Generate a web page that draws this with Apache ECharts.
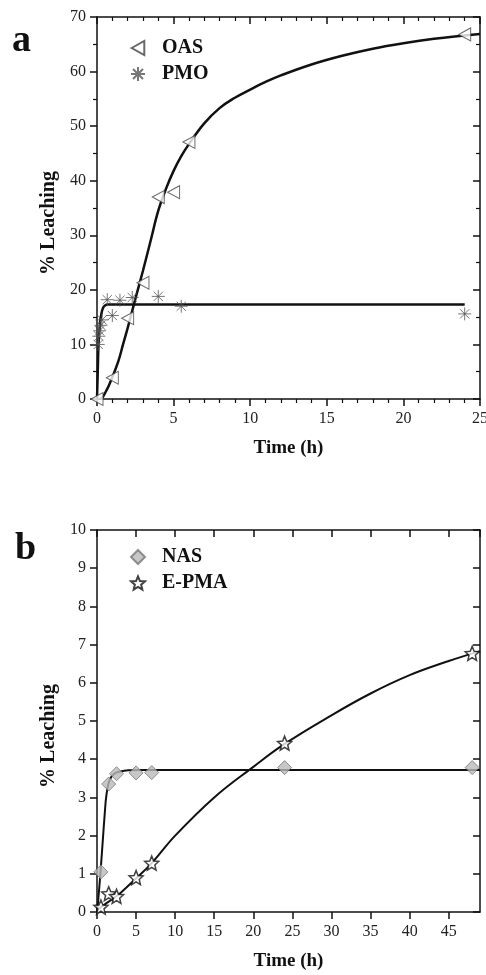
<!DOCTYPE html>
<html>
<head>
<meta charset="utf-8">
<script src="https://cdn.jsdelivr.net/npm/echarts@6/dist/echarts.min.js"></script>
<style>
  html, body { margin: 0; padding: 0; background: #fff; }
  #chart { width: 486px; height: 975px; }
</style>
</head>
<body>
<div id="chart"></div>
<script>
// panel a - measured points (time in h, % leaching)
const oasTime = [0, 1, 2, 3, 4, 5, 6, 24];
const oasVal = [0, 3.9, 14.8, 21.3, 37.0, 37.9, 47.1, 66.8];
const pmoTime = [0.08, 0.12, 0.17, 0.25, 0.33, 0.67, 1, 1.5, 2.3, 4, 5.5, 24];
const pmoVal = [10, 11.5, 12.5, 13.5, 14.5, 18.2, 15.3, 18.1, 18.6, 18.8, 17.0, 15.6];

// panel a - fitted curves
const oasFitTime = [0, 0.2, 0.6, 1, 1.4, 1.7, 2, 2.5, 3, 3.5, 4, 4.5, 5, 5.5, 6, 7, 8, 9, 10, 11, 12, 14, 16, 18, 20, 22, 25];
const oasFitVal = [0, 0, 1.5, 4, 7, 10, 13, 18.3, 23.5, 29, 34.5, 38.5, 41.8, 44.5, 46.7, 50.5, 53.3, 55.2, 56.7, 58.1, 59.3, 61.3, 62.9, 64.2, 65.2, 66.0, 66.9];
const pmoFitTime = [0, 0.05, 0.1, 0.2, 0.3, 0.4, 0.5, 0.7, 1, 24];
const pmoFitVal = [0, 5, 10, 14, 15.8, 16.7, 17.1, 17.3, 17.3, 17.3];

// panel b - measured points
const nasTime = [0.5, 1.5, 2.5, 5, 7, 24, 48];
const nasVal = [1.05, 3.35, 3.62, 3.64, 3.65, 3.78, 3.78];
const epmaTime = [0.5, 1.5, 2.5, 5, 7, 24, 48];
const epmaVal = [0.13, 0.48, 0.41, 0.9, 1.28, 4.42, 6.77];

// panel b - fitted curves
const nasFitTime = [0, 0.15, 0.45, 0.75, 1, 1.2, 1.6, 2.2, 3, 4, 6, 49];
const nasFitVal = [0, 0.3, 1.05, 1.9, 2.6, 3.05, 3.45, 3.62, 3.68, 3.71, 3.72, 3.72];
const epmaFitTime = [0, 1, 2, 3, 5, 7, 10, 15, 20, 24, 30, 35, 40, 45, 49];
const epmaFitVal = [0.05, 0.2, 0.34, 0.5, 0.88, 1.28, 2.0, 3.0, 3.8, 4.4, 5.15, 5.72, 6.2, 6.57, 6.83];

const pairs = (xs, ys) => xs.map((x, i) => [x, ys[i]]);

const serif = "'Liberation Serif', 'DejaVu Serif', serif";
const ink = '#111';
const triPath = 'path://M0,5L9,0L9,10Z';
const starPath = 'path://M0,-1L0.265,-0.364L0.951,-0.309L0.428,0.139L0.588,0.809L0,0.45L-0.588,0.809L-0.428,0.139L-0.951,-0.309L-0.265,-0.364Z';
const asteriskPath = 'path://M0,-1L0,1M-1,0L1,0M-0.71,-0.71L0.71,0.71M-0.71,0.71L0.71,-0.71';

function makeAxis(kind, gridIndex, max, interval, minorSplit, mirror) {
  let pos = kind === 'x' ? (mirror ? 'top' : 'bottom') : (mirror ? 'right' : 'left');
  let ax = {
    type: 'value',
    gridIndex: gridIndex,
    position: pos,
    min: 0,
    max: max,
    interval: interval,
    axisLine: { show: true, onZero: false, lineStyle: { color: ink, width: 1.5 } },
    axisTick: { show: true, inside: mirror, length: 7, lineStyle: { color: ink, width: 1.5 } },
    minorTick: { show: minorSplit > 0, splitNumber: minorSplit || 5, length: 4, lineStyle: { color: ink, width: 1.2 } },
    splitLine: { show: false },
    axisLabel: {
      show: !mirror, fontFamily: serif, fontSize: 16, color: '#222',
      margin: kind === 'x' ? 12 : 11,
      showMaxLabel: max % interval === 0
    }
  };
  if (!mirror) {
    ax.nameLocation = 'middle';
    if (kind === 'x') {
      ax.name = 'Time (h)';
      ax.nameGap = 40;
      ax.nameTextStyle = { fontFamily: serif, fontSize: 19, fontWeight: 'bold', color: ink };
    } else {
      ax.name = '% Leaching';
      ax.nameGap = 38;
      ax.nameTextStyle = { fontFamily: serif, fontSize: 20, fontWeight: 'bold', color: ink, padding: [0, 30, 0, 0] };
    }
  }
  return ax;
}

const legendText = { fontFamily: serif, fontSize: 20, fontWeight: 'bold', color: ink, padding: [0, 0, 0, 12] };

let myChart = echarts.init(document.getElementById('chart'), null, { renderer: 'canvas' });

let option = {
  backgroundColor: '#fff',
  animation: false,
  grid: [
    { left: 97, top: 17, width: 383, height: 382, outerBoundsMode: 'none' },
    { left: 97, top: 530, width: 383, height: 382, outerBoundsMode: 'none' }
  ],
  xAxis: [
    makeAxis('x', 0, 25, 5, 5, false),
    makeAxis('x', 0, 25, 5, 5, true),
    makeAxis('x', 1, 49, 5, 0, false),
    makeAxis('x', 1, 49, 5, 0, true)
  ],
  yAxis: [
    makeAxis('y', 0, 70, 10, 2, false),
    makeAxis('y', 0, 70, 10, 2, true),
    makeAxis('y', 1, 10, 1, 0, false),
    makeAxis('y', 1, 10, 1, 0, true)
  ],
  legend: [
    {
      data: ['OAS', 'PMO'],
      left: 125, top: 33, orient: 'vertical',
      itemWidth: 14, itemHeight: 14, itemGap: 6,
      textStyle: legendText
    },
    {
      data: ['NAS', 'E-PMA'],
      left: 125, top: 542, orient: 'vertical',
      itemWidth: 14, itemHeight: 14, itemGap: 6,
      textStyle: legendText
    }
  ],
  graphic: [
    { type: 'text', left: 12, top: 22, style: { text: 'a', font: 'bold 38px ' + serif, fill: ink } },
    { type: 'text', left: 15, top: 530, style: { text: 'b', font: 'bold 38px ' + serif, fill: ink } }
  ],
  series: [
    {
      name: 'OAS fit', type: 'line', xAxisIndex: 0, yAxisIndex: 0,
      data: pairs(oasFitTime, oasFitVal), smooth: 0.4,
      showSymbol: false, lineStyle: { color: ink, width: 2.5 }, z: 2
    },
    {
      name: 'PMO fit', type: 'line', xAxisIndex: 0, yAxisIndex: 0,
      data: pairs(pmoFitTime, pmoFitVal), smooth: 0.4,
      showSymbol: false, lineStyle: { color: ink, width: 2.5 }, z: 2
    },
    {
      name: 'OAS', type: 'scatter', xAxisIndex: 0, yAxisIndex: 0,
      data: pairs(oasTime, oasVal), symbol: triPath, symbolSize: [12, 13],
      itemStyle: { color: '#fff', borderColor: '#444', borderWidth: 1 }, z: 3
    },
    {
      name: 'PMO', type: 'scatter', xAxisIndex: 0, yAxisIndex: 0,
      data: pairs(pmoTime, pmoVal), symbol: asteriskPath, symbolSize: 13,
      itemStyle: { color: 'rgba(0,0,0,0)', borderColor: '#555', borderWidth: 1 }, z: 3
    },
    {
      name: 'NAS fit', type: 'line', xAxisIndex: 2, yAxisIndex: 2,
      data: pairs(nasFitTime, nasFitVal), smooth: 0.4,
      showSymbol: false, lineStyle: { color: ink, width: 2 }, z: 2
    },
    {
      name: 'E-PMA fit', type: 'line', xAxisIndex: 2, yAxisIndex: 2,
      data: pairs(epmaFitTime, epmaFitVal), smooth: 0.4,
      showSymbol: false, lineStyle: { color: ink, width: 2 }, z: 2
    },
    {
      name: 'NAS', type: 'scatter', xAxisIndex: 2, yAxisIndex: 2,
      data: pairs(nasTime, nasVal), symbol: 'diamond', symbolSize: 14,
      itemStyle: { color: '#b9b9b9', borderColor: '#777', borderWidth: 1 }, z: 3
    },
    {
      name: 'E-PMA', type: 'scatter', xAxisIndex: 2, yAxisIndex: 2,
      data: pairs(epmaTime, epmaVal), symbol: starPath, symbolSize: 14,
      itemStyle: { color: '#fff', borderColor: ink, borderWidth: 1.5 }, z: 3
    }
  ]
};

myChart.setOption(option, true);
</script>
</body>
</html>
